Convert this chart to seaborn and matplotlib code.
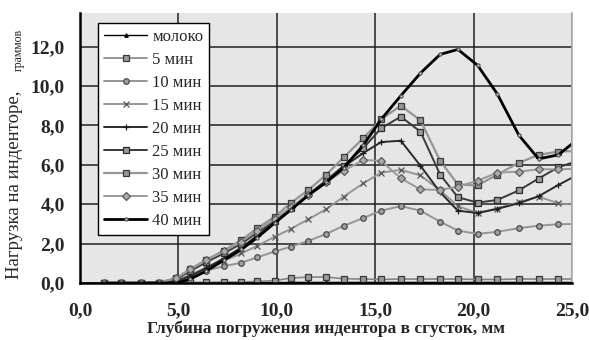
import numpy as np
import pandas as pd
import seaborn as sns
import matplotlib.pyplot as plt

x_mm = [1.2, 2.1, 3.1, 4.0, 4.9, 5.6, 6.4, 7.3, 8.2, 9.0, 9.9, 10.7, 11.6, 12.5,
        13.4, 14.4, 15.3, 16.3, 17.3, 18.3, 19.2, 20.2, 21.2, 22.3, 23.3, 24.3, 25.3]

milk = [0.0, 0.0, 0.0, 0.0, 0.02, 0.02, 0.02, 0.02, 0.02, 0.02, 0.02, 0.03, 0.03, 0.03,
        0.03, 0.03, 0.03, 0.03, 0.03, 0.03, 0.03, 0.03, 0.03, 0.03, 0.03, 0.03, 0.03]
min5 = [0.02, 0.02, 0.02, 0.02, 0.05, 0.03, 0.03, 0.05, 0.05, 0.08, 0.12, 0.25, 0.3, 0.3,
        0.22, 0.2, 0.18, 0.2, 0.2, 0.2, 0.2, 0.18, 0.18, 0.2, 0.2, 0.2, 0.2]
min10 = [0.0, 0.0, 0.0, 0.02, 0.1, 0.35, 0.63, 0.85, 1.03, 1.3, 1.6, 1.84, 2.13, 2.49,
         2.9, 3.3, 3.67, 3.9, 3.67, 3.11, 2.66, 2.49, 2.6, 2.78, 2.91, 2.98, 3.0]
min15 = [0.0, 0.0, 0.0, 0.02, 0.12, 0.42, 0.78, 1.12, 1.5, 1.88, 2.35, 2.74, 3.23, 3.74,
         4.38, 5.06, 5.6, 5.74, 5.46, 4.7, 3.9, 3.55, 3.78, 4.1, 4.38, 4.05, 3.95]
min20 = [0.0, 0.0, 0.0, 0.02, 0.1, 0.35, 0.75, 1.25, 1.8, 2.4, 3.1, 3.75, 4.45, 5.15,
         5.9, 6.6, 7.15, 7.22, 5.95, 4.6, 3.67, 3.55, 3.76, 4.05, 4.4, 4.97, 5.5]
min25 = [0.0, 0.0, 0.0, 0.02, 0.2, 0.6, 1.05, 1.5, 2.0, 2.55, 3.15, 3.8, 4.5, 5.2,
         5.95, 6.85, 7.85, 8.44, 7.68, 5.5, 4.35, 4.08, 4.21, 4.7, 5.3, 5.87, 6.2]
min30 = [0.0, 0.0, 0.0, 0.02, 0.25, 0.7, 1.17, 1.64, 2.18, 2.77, 3.37, 4.05, 4.72, 5.48,
         6.38, 7.35, 8.3, 9.0, 8.25, 6.2, 5.0, 4.95, 5.5, 6.1, 6.5, 6.67, 6.7]
min35 = [0.0, 0.0, 0.0, 0.02, 0.25, 0.7, 1.15, 1.6, 2.1, 2.65, 3.25, 3.85, 4.45, 5.1,
         5.7, 6.24, 6.2, 5.31, 4.75, 4.72, 4.89, 5.19, 5.6, 5.65, 5.77, 5.77, 5.8]
min40 = [0.0, 0.0, 0.0, 0.0, 0.0, 0.2, 0.6, 1.15, 1.7, 2.3, 3.05, 3.7, 4.45, 5.1,
         5.85, 7.0, 8.3, 9.5, 10.65, 11.6, 11.85, 11.05, 9.6, 7.5, 6.3, 6.5, 7.3]

labels = ['молоко', '5 мин', '10 мин', '15 мин', '20 мин', '25 мин', '30 мин', '35 мин', '40 мин']
series = [milk, min5, min10, min15, min20, min25, min30, min35, min40]
x_ticks = [0, 5, 10, 15, 20, 25]
y_ticks = [0, 2, 4, 6, 8, 10, 12]

# line color, line width, marker, marker face, marker edge, marker size
styles = {
    'молоко': ('#000000', 1.0, '^', '#000000', '#000000', 2.5),
    '5 мин':  ('#858585', 1.2, 's', '#9a9a9a', '#3a3a3a', 4.5),
    '10 мин': ('#959595', 1.4, 'o', '#a0a0a0', '#4a4a4a', 4.0),
    '15 мин': ('#959595', 1.4, 'x', '#555555', '#555555', 4.5),
    '20 мин': ('#2a2a2a', 1.4, '+', '#1a1a1a', '#1a1a1a', 5.0),
    '25 мин': ('#3a3a3a', 1.4, 's', '#9a9a9a', '#2a2a2a', 4.8),
    '30 мин': ('#959595', 1.6, 's', '#959595', '#3a3a3a', 4.8),
    '35 мин': ('#9a9a9a', 1.4, 'D', '#ababab', '#5a5a5a', 3.8),
    '40 мин': ('#000000', 2.0, 'o', '#d8d8d8', '#555555', 2.2),
}

sns.set_theme(style='white')
plt.rcParams['font.family'] = ['Liberation Serif', 'DejaVu Serif']

fig = plt.figure(figsize=(5.89, 3.40), dpi=100)
ax = fig.add_axes([80 / 589, 57 / 340, 492 / 589, 270 / 340])
ax.set_facecolor('#e6e6e6')

for name, ys in zip(labels, series):
    lc, lw, mk, mf, me, ms = styles[name]
    df = pd.DataFrame({'x': x_mm, 'y': ys})
    sns.lineplot(data=df, x='x', y='y', ax=ax, color=lc, linewidth=lw, marker=mk,
                 markersize=ms, markerfacecolor=mf, markeredgecolor=me,
                 markeredgewidth=0.9, label=name, clip_on=True)

ax.set_xlim(0, 25)
ax.set_ylim(0, 13.7)
ax.set_xticks(x_ticks)
ax.set_yticks(y_ticks)
ax.set_xticklabels([f'{v:.1f}'.replace('.', ',') for v in x_ticks])
ax.set_yticklabels([f'{v:.1f}'.replace('.', ',') for v in y_ticks])
ax.grid(True, color='#202020', linewidth=1.1)
ax.set_axisbelow(True)
for lab in ax.get_xticklabels() + ax.get_yticklabels():
    lab.set_fontweight('bold')
ax.tick_params(axis='y', direction='out', length=5, width=1.5, pad=6, labelsize=14, color='black')
ax.tick_params(axis='x', direction='inout', length=8, width=1.5, pad=10, labelsize=14, color='black')

ax.spines['top'].set_visible(False)
ax.spines['right'].set_color('#b0b0b0')
ax.spines['left'].set_color('black')
ax.spines['left'].set_linewidth(1.8)
ax.spines['bottom'].set_color('black')
ax.spines['bottom'].set_linewidth(1.8)

ax.set_xlabel('Глубина погружения индентора в сгусток, мм', fontsize=12.5,
              fontweight='bold', labelpad=1)
ax.set_ylabel('')
fig.text(15 / 589, 1 - 185 / 340, 'Нагрузка на инденторе,', rotation=90,
         fontsize=13.5, ha='center', va='center')
fig.text(19 / 589, 1 - 50 / 340, 'граммов', rotation=90,
         fontsize=8.5, ha='center', va='center')

leg = ax.legend(loc='upper left', bbox_to_anchor=(18 / 492, 1 - 10 / 270),
                frameon=True, fancybox=False, fontsize=12, handlelength=2.6,
                handletextpad=0.3, labelspacing=0.42, borderpad=0.35,
                borderaxespad=0)
leg.get_frame().set_edgecolor('black')
leg.get_frame().set_linewidth(1.0)
leg.get_frame().set_facecolor('white')
leg.get_frame().set_alpha(1)

fig.savefig('out.png', dpi=100)
